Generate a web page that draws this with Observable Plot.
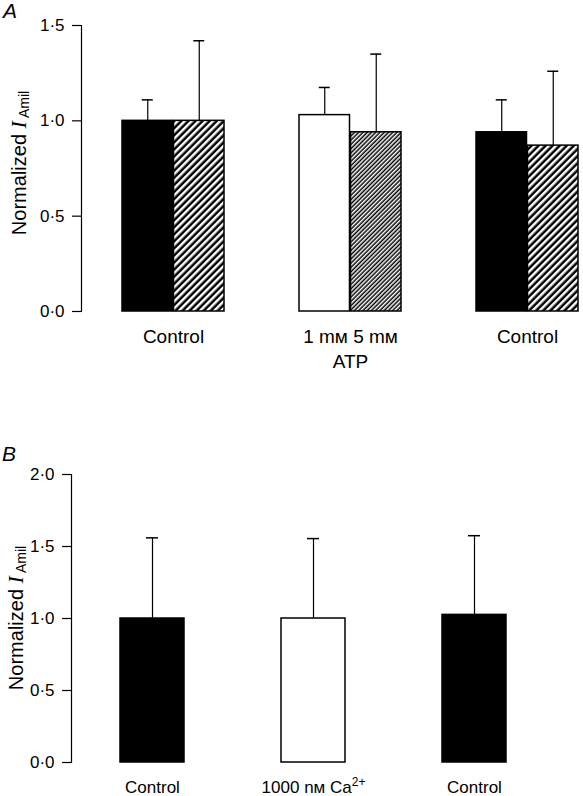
<!DOCTYPE html>
<html><head><meta charset="utf-8">
<script src="https://cdn.jsdelivr.net/npm/d3@7"></script>
<script src="https://cdn.jsdelivr.net/npm/@observablehq/plot@0.6"></script>
<style>
body{margin:0;background:#fff;}
#wrap{position:relative;width:583px;height:796px;font-family:"Liberation Sans",Arial,Helvetica,sans-serif;overflow:hidden;}
.panel{position:absolute;left:0;}
.panel svg{overflow:visible;}
.tag{position:absolute;font-style:italic;font-size:21px;line-height:1;color:#000;}
</style></head><body>
<div id="wrap">
<div id="pa" class="panel" style="top:0"></div>
<div id="pb" class="panel" style="top:400px"></div>
<div class="tag" style="left:3px;top:0px">A</div>
<div class="tag" style="left:2px;top:443px">B</div>
</div>
<script>
// ---------- Panel A data ----------
const groupsA = ["Control", "ATP", "Control (after)"];
const tickLabelsA = ["Control", "1 mм 5 mм\nATP", "Control"];
const meanA1 = [1.00, 1.03, 0.94];      // first bar of each pair
const semA1  = [0.11, 0.145, 0.17];
const kindA1 = ["control", "atp1", "control"];
const meanA2 = [1.00, 0.94, 0.87];      // second (hatched) bar of each pair
const semA2  = [0.42, 0.41, 0.39];
const kindA2 = ["controlHatch", "atp5", "controlHatch"];
const ticksA = [0, 0.5, 1.0, 1.5];

// ---------- Panel B data ----------
const groupsB = ["Control", "Ca", "Control (after)"];
const tickLabelsB = ["Control", "1000 nм Ca2+", "Control"];
const meanB = [1.00, 1.00, 1.025];
const semB  = [0.56, 0.555, 0.55];
const kindB = ["control", "ca", "control"];
const ticksB = [0, 0.5, 1.0, 1.5, 2.0];

// ---------- styles ----------
const fillOf = {
  control: "black", controlHatch: "url(#hatchCoarse)",
  atp1: "white", atp5: "url(#hatchFine)",
  ca: "white"
};
const fmt = d => d.toFixed(1).replace(".", "\u00B7");
const W = 583;

function band(n, r0, r1, pi, po) {
  const step = (r1 - r0) / (n - pi + 2 * po);
  return step * (1 - pi);
}

// ---------- Panel A ----------
const rowsA1 = groupsA.map((g, i) => ({group: g, mean: meanA1[i], top: meanA1[i] + semA1[i], fill: fillOf[kindA1[i]]}));
const rowsA2 = groupsA.map((g, i) => ({group: g, mean: meanA2[i], top: meanA2[i] + semA2[i], fill: fillOf[kindA2[i]]}));
const mlA = 81, mrA = 5, piA = 0.4213, poA = 0.1068;
const bwA = band(3, mlA, W - mrA, piA, poA);
const capW = 12;

const svgA = Plot.plot({
  width: W, height: 400,
  marginLeft: mlA, marginRight: mrA, marginTop: 25, marginBottom: 89,
  style: {fontSize: "17px", fontFamily: "'Liberation Sans', Arial, Helvetica, sans-serif", color: "black", background: "white", overflow: "visible"},
  x: {type: "band", domain: groupsA, paddingInner: piA, paddingOuter: poA, align: 1, label: null},
  y: {domain: [0, 1.5], label: null},
  color: {type: "identity"},
  marks: [
    Plot.ruleX(rowsA1, {x: "group", y1: "mean", y2: "top", dx: -bwA / 4, stroke: "black", strokeWidth: 1.2}),
    Plot.ruleX(rowsA2, {x: "group", y1: "mean", y2: "top", dx: bwA / 4, stroke: "black", strokeWidth: 1.2}),
    Plot.tickY(rowsA1, {x: "group", y: "top", dx: -bwA / 4, insetLeft: (bwA - capW) / 2, insetRight: (bwA - capW) / 2, stroke: "black", strokeWidth: 1.5}),
    Plot.tickY(rowsA2, {x: "group", y: "top", dx: bwA / 4, insetLeft: (bwA - capW) / 2, insetRight: (bwA - capW) / 2, stroke: "black", strokeWidth: 1.5}),
    Plot.barY(rowsA1, {x: "group", y: "mean", fill: "fill", insetRight: bwA / 2, stroke: "black", strokeWidth: 1.5}),
    Plot.barY(rowsA2, {x: "group", y: "mean", fill: "fill", insetLeft: bwA / 2, stroke: "black", strokeWidth: 1.5}),
    Plot.frame({anchor: "left", stroke: "black", strokeWidth: 1.2}),
    Plot.axisY({ticks: ticksA, tickFormat: fmt, tickSize: 9, tickPadding: 8, label: null, fontSize: 17, strokeWidth: 1.2}),
    Plot.axisX({tickSize: 0, tickPadding: 13, label: null, fontSize: 19, lineHeight: 1.35,
      tickFormat: d => tickLabelsA[groupsA.indexOf(d)]})
  ]
});

// hatch patterns
const defs = d3.select(svgA).insert("defs", ":first-child");
function hatch(id, period) {
  const p = defs.append("pattern").attr("id", id).attr("patternUnits", "userSpaceOnUse")
    .attr("width", period).attr("height", period).attr("patternTransform", "rotate(45)");
  p.append("rect").attr("width", period).attr("height", period).attr("fill", "black");
  p.append("rect").attr("width", period * 0.5).attr("height", period).attr("fill", "white");
}
hatch("hatchCoarse", 5.0);
hatch("hatchFine", 3.0);

function addYLabel(svg, cx, cy) {
  const t = d3.select(svg).append("text")
    .attr("transform", `translate(${cx},${cy}) rotate(-90)`)
    .attr("text-anchor", "middle").attr("fill", "black")
    .attr("font-family", "'Liberation Sans', Arial, sans-serif").attr("font-size", 20);
  t.append("tspan").text("Normalized ");
  t.append("tspan").attr("font-family", "'Liberation Serif', 'Times New Roman', serif")
    .attr("font-style", "italic").attr("font-size", 22).text("I");
  t.append("tspan").attr("font-size", 14).attr("dx", 3).attr("dy", 3).text("Amil");
}
addYLabel(svgA, 26, 163);
document.getElementById("pa").appendChild(svgA);

// ---------- Panel B ----------
const rowsB = groupsB.map((g, i) => ({group: g, mean: meanB[i], top: meanB[i] + semB[i], fill: fillOf[kindB[i]]}));
const mlB = 71, mrB = 77, piB = 0.604, poB = 0.1487;
const bwB = band(3, mlB, W - mrB, piB, poB);

const svgB = Plot.plot({
  width: W, height: 396,
  marginLeft: mlB, marginRight: mrB, marginTop: 74, marginBottom: 34,
  style: {fontSize: "17px", fontFamily: "'Liberation Sans', Arial, Helvetica, sans-serif", color: "black", background: "white", overflow: "visible"},
  x: {type: "band", domain: groupsB, paddingInner: piB, paddingOuter: poB, align: 1, label: null},
  y: {domain: [0, 2.0], label: null},
  color: {type: "identity"},
  marks: [
    Plot.ruleX(rowsB, {x: "group", y1: "mean", y2: "top", stroke: "black", strokeWidth: 1.2}),
    Plot.tickY(rowsB, {x: "group", y: "top", insetLeft: (bwB - capW) / 2, insetRight: (bwB - capW) / 2, stroke: "black", strokeWidth: 1.5}),
    Plot.barY(rowsB, {x: "group", y: "mean", fill: "fill", stroke: "black", strokeWidth: 1.5}),
    Plot.frame({anchor: "left", stroke: "black", strokeWidth: 1.2}),
    Plot.axisY({ticks: ticksB, tickFormat: fmt, tickSize: 9, tickPadding: 8, label: null, fontSize: 17, strokeWidth: 1.2}),
    Plot.axisX({tickSize: 0, tickPadding: 18, label: null, fontSize: 17,
      tickFormat: d => tickLabelsB[groupsB.indexOf(d)]})
  ]
});
// superscript for Ca2+
d3.select(svgB).selectAll("text").filter(function() { return this.textContent === "1000 nм Ca2+"; })
  .each(function() {
    const t = d3.select(this);
    t.text(null);
    t.append("tspan").text("1000 nм Ca");
    t.append("tspan").attr("font-size", 12).attr("dy", -7).text("2+");
  });
addYLabel(svgB, 23, 218);
document.getElementById("pb").appendChild(svgB);
</script>
</body></html>
